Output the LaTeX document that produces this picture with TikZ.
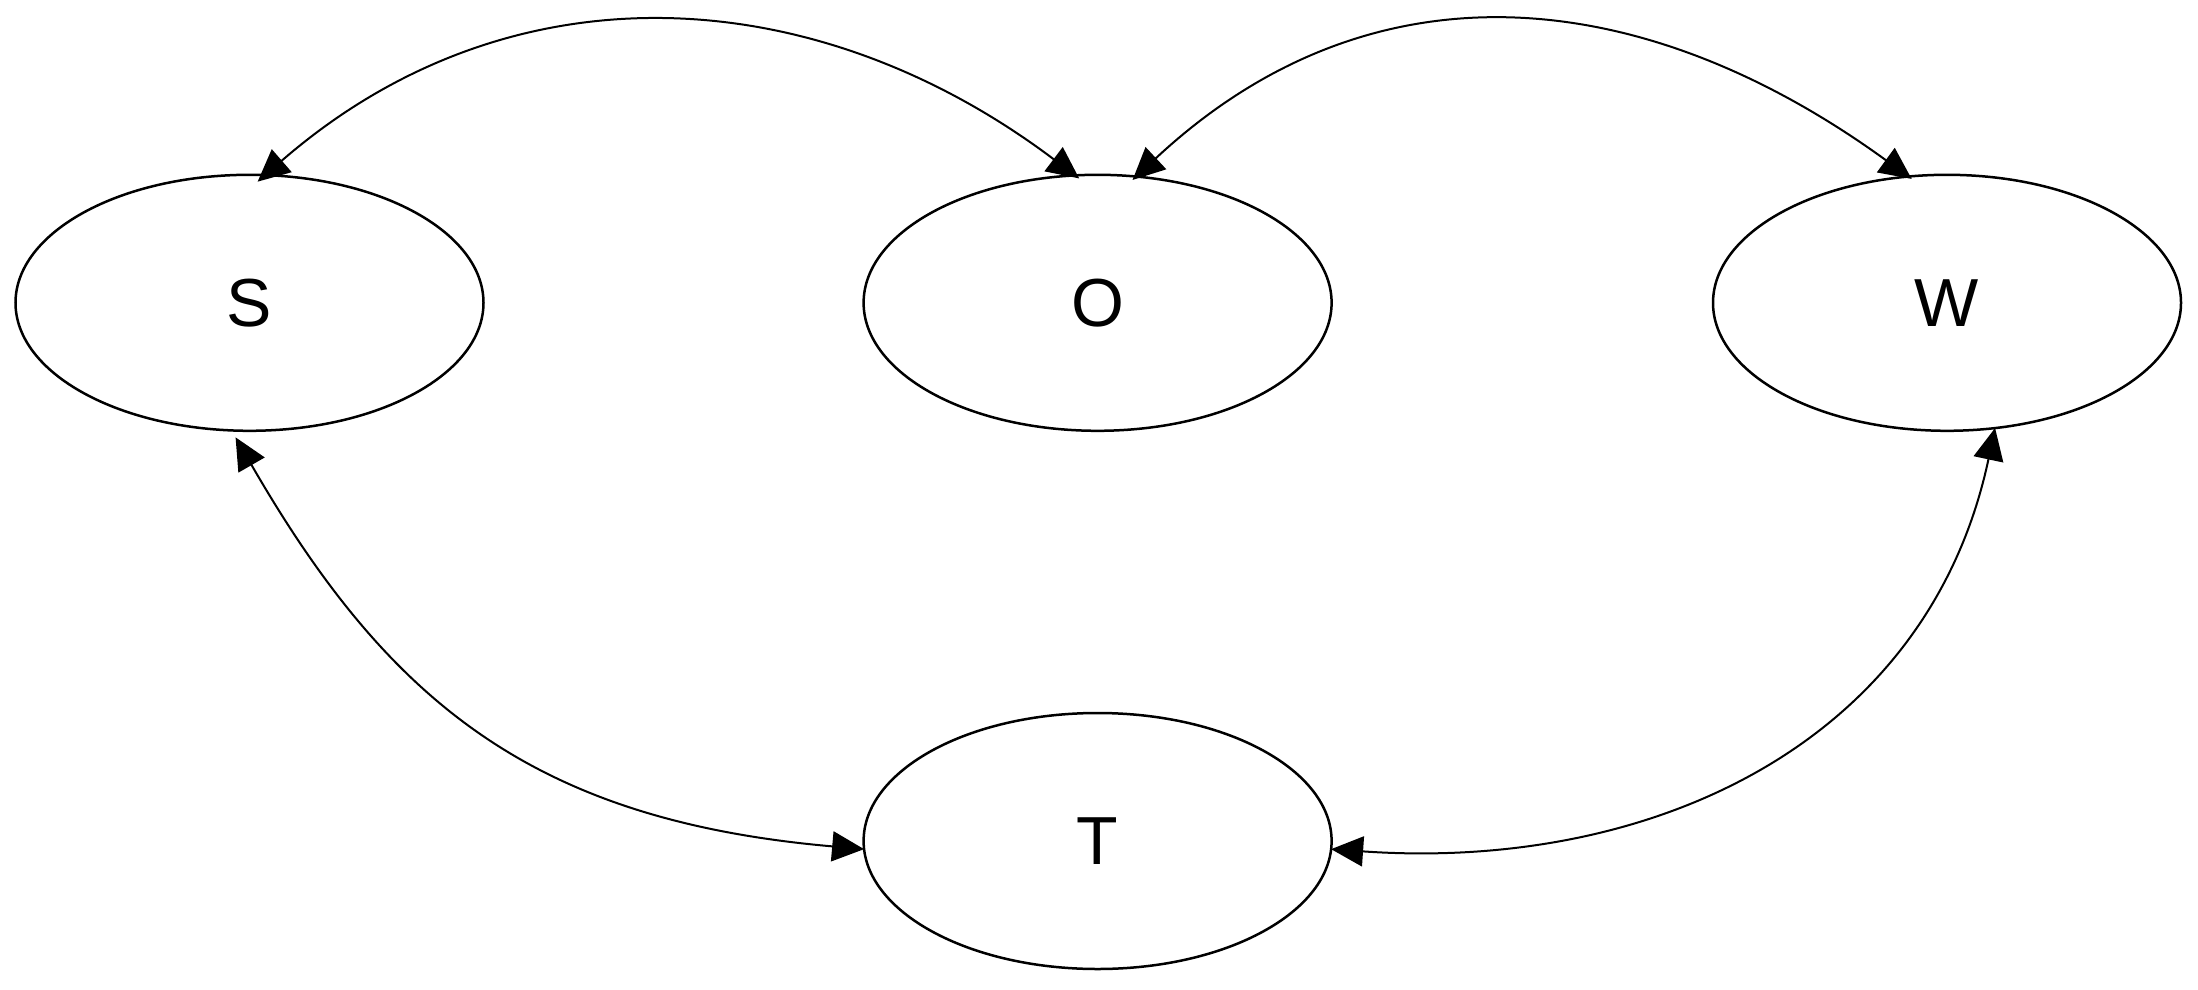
\documentclass[tikz,border=0pt]{standalone}
\usepackage{fontspec}
\setmainfont{Liberation Sans}
\usetikzlibrary{shapes.geometric,arrows.meta}
\begin{document}
\begin{tikzpicture}[x=1pt,y=1pt,
  state/.style={ellipse,draw,line width=2.5pt,inner sep=0pt,outer sep=0pt,
    minimum width=468pt,minimum height=256pt,font=\fontsize{68}{72}\selectfont},
  link/.style={line width=2pt,
    {Triangle[length=32pt,width=30pt]}-{Triangle[length=32pt,width=30pt]}}]
\useasboundingbox (0,0) rectangle (2198,-990);
\node[state] (S) at (249.5,-302.8) {S};
\node[state] (O) at (1097.6,-302.8) {O};
\node[state] (W) at (1947,-302.8) {W};
\node[state] (T) at (1097.6,-841) {T};
\draw[link,shorten <=-10pt,shorten >=-5pt] (S.83) to[out=41,in=143,looseness=1.03] (O.100);
\draw[link,shorten <=-5pt,shorten >=-4pt] (O.73) to[out=43,in=144,looseness=1.08] (W.107);
\draw[link,shorten <=8pt] (S.262) to[out=-60,in=175,out looseness=1.06,in looseness=1.12] (T.182);
\draw[link] (W.291) to[out=258,in=356,looseness=1.05] (T.358);
\end{tikzpicture}
\end{document}
